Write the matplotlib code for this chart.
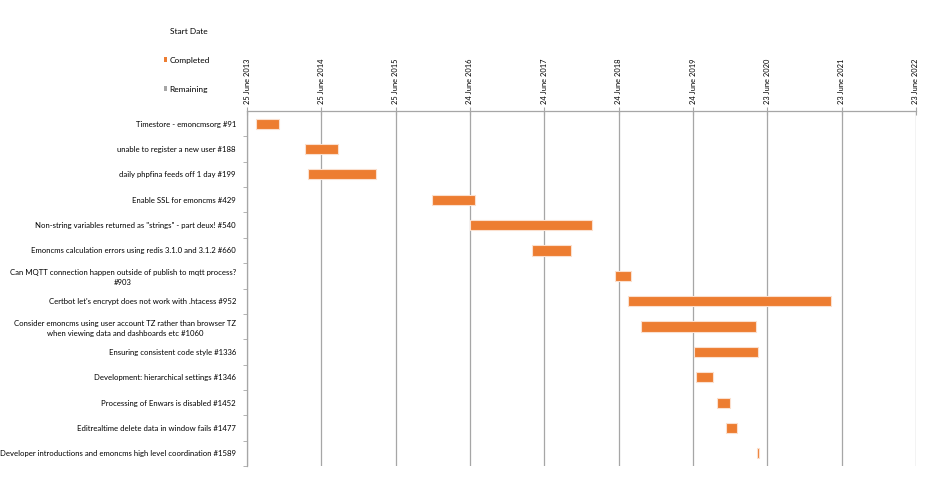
import pandas as pd
import matplotlib.pyplot as plt
import matplotlib.dates as mdates
from matplotlib.patches import Patch

plt.rcParams['font.family'] = ['Lato', 'DejaVu Sans']

# issues (top to bottom) with start / end dates
tasks = [
    'Timestore - emoncmsorg #91',
    'unable to register a new user #188',
    'daily phpfina feeds off 1 day #199',
    'Enable SSL for emoncms #429',
    'Non-string variables returned as "strings" - part deux! #540',
    'Emoncms calculation errors using redis 3.1.0 and 3.1.2 #660',
    'Can MQTT connection happen outside of publish to mqtt process?\n#903',
    "Certbot let's encrypt does not work with .htacess #952",
    'Consider emoncms using user account TZ rather than browser TZ\nwhen viewing data and dashboards etc #1060',
    'Ensuring consistent code style #1336',
    'Development: hierarchical settings #1346',
    'Processing of Enwars is disabled #1452',
    'Editrealtime delete data in window fails #1477',
    'Developer introductions and emoncms high level coordination #1589',
]
start_dates = ['2013-08-08', '2014-04-08', '2014-04-22', '2015-12-22', '2016-06-26',
               '2017-04-25', '2018-06-06', '2018-08-11', '2018-10-10', '2019-06-29',
               '2019-07-11', '2019-10-21', '2019-12-02', '2020-05-02']
end_dates = ['2013-12-01', '2014-09-17', '2015-03-22', '2016-07-17', '2018-02-14',
             '2017-10-31', '2018-08-25', '2021-05-02', '2020-04-29', '2020-05-06',
             '2019-09-29', '2019-12-21', '2020-01-25', '2020-05-12']

axis_start = pd.Timestamp('2013-06-25')
axis_end = pd.Timestamp('2022-06-23')

starts = pd.to_datetime(start_dates)
ends = pd.to_datetime(end_dates)
durations = (ends - starts).days

fig = plt.figure(figsize=(9.4, 4.97), dpi=100)
ax = fig.add_axes([247 / 940, 1 - 466 / 497, (916 - 247) / 940, (466 - 111) / 497])

orange = '#ED7D31'
grey = '#A6A6A6'
ypos = list(range(len(tasks)))
ax.barh(ypos, durations, left=mdates.date2num(starts), height=0.4,
        color=orange, edgecolor='#FBE0CF', linewidth=0.8, zorder=3)

ax.set_ylim(len(tasks) - 0.5, -0.5)
ax.set_yticks(ypos)
ax.set_yticklabels(tasks, fontsize=5.6)
for lbl in ax.get_yticklabels():
    lbl.set_multialignment('center')
    lbl.set_linespacing(1.45)
ax.set_yticks([y + 0.5 for y in ypos], minor=True)
ax.tick_params(axis='y', which='major', length=0, pad=8)
ax.tick_params(axis='y', which='minor', length=3, color=grey, direction='out')

# date axis on top, ticks every 365 days
ticks = [axis_start + pd.Timedelta(days=365 * k) for k in range(10)]
ax.set_xlim(mdates.date2num(axis_start), mdates.date2num(axis_end))
ax.xaxis.tick_top()
ax.set_xticks(mdates.date2num(ticks))
ax.set_xticklabels([t.strftime('%d %B %Y') for t in ticks], rotation=90, fontsize=5.4)
ax.tick_params(axis='x', which='major', length=6, direction='inout', color=grey, pad=2)
ax.grid(axis='x', color=grey, linewidth=0.9, zorder=0)

for side in ['right', 'bottom']:
    ax.spines[side].set_visible(False)
for side in ['top', 'left']:
    ax.spines[side].set_color(grey)
    ax.spines[side].set_linewidth(0.9)

handles = [Patch(facecolor='none', edgecolor='none', label='Start Date'),
           Patch(facecolor=orange, label='Completed'),
           Patch(facecolor=grey, label='Remaining')]
fig.legend(handles=handles, loc='upper left', bbox_to_anchor=(156 / 940, 1 - 20 / 497),
           frameon=False, fontsize=6.0, handlelength=0.45, handleheight=0.45,
           handletextpad=0.3, labelspacing=2.65)

plt.savefig('out.png', dpi=100)
